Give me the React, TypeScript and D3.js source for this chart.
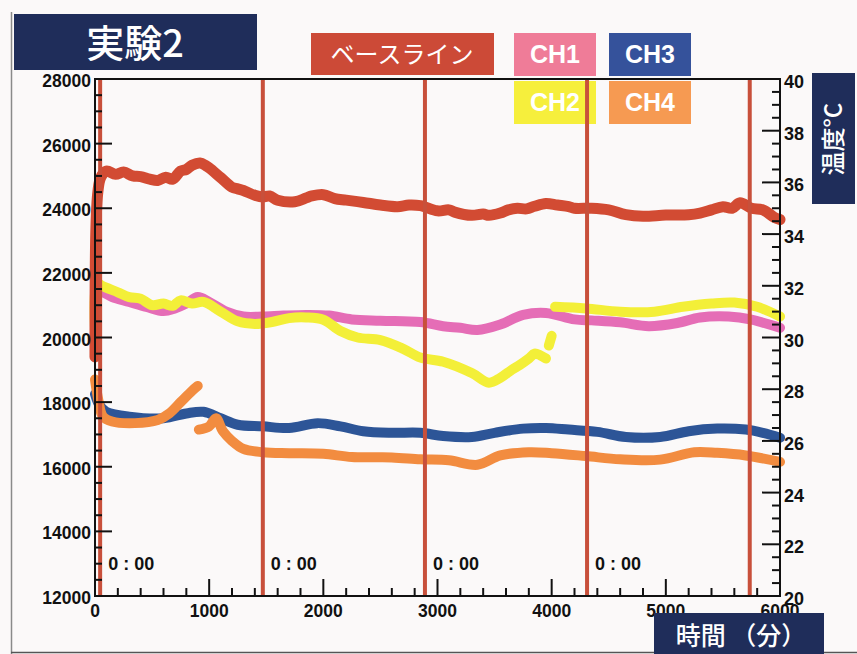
import React from 'react';
import * as d3 from 'd3';

const W = 857;
const H = 654;

// ---- data ----
const xMajorTicks = [0, 1000, 2000, 3000, 4000, 5000, 6000];
const yLeftMajorTicks = [12000, 14000, 16000, 18000, 20000, 22000, 24000, 26000, 28000];
const yRightMajorTicks = [20, 22, 24, 26, 28, 30, 32, 34, 36, 38, 40];
const dayLines = [45, 1470, 2890, 4310, 5735];
const labelledDayLines = [45, 1470, 2890, 4310];
const dayLabel = '0 : 00';

const baseline: [number, number][] = [
  [0, 19400], [8, 23400], [25, 24500], [50, 24950], [100, 25150], [180, 25050], [250, 25120], [330, 25000],
  [400, 24980], [480, 24900], [550, 24860], [620, 24960], [680, 24900], [750, 25150], [800, 25200],
  [850, 25330], [920, 25400], [970, 25320], [1000, 25250], [1100, 24950], [1200, 24650], [1250, 24600],
  [1300, 24550], [1400, 24400], [1470, 24350], [1530, 24380], [1600, 24250], [1750, 24200], [1850, 24320],
  [1900, 24380], [2000, 24420], [2100, 24300], [2200, 24250], [2350, 24180], [2500, 24100], [2650, 24050],
  [2750, 24100], [2850, 24080], [3000, 23920], [3100, 23950], [3150, 23880], [3300, 23780], [3400, 23820],
  [3450, 23780], [3550, 23850], [3620, 23950], [3700, 24000], [3780, 23980], [3850, 24060], [3950, 24150],
  [4050, 24100], [4150, 24050], [4200, 24000], [4350, 24000], [4500, 23950], [4650, 23800], [4800, 23750],
  [5000, 23790], [5200, 23800], [5300, 23850], [5400, 23950], [5500, 24050], [5580, 24000], [5650, 24170],
  [5750, 24000], [5850, 23950], [5950, 23720], [6000, 23650],
];

const ch1: [number, number][] = [
  [0, 20900], [20, 21300], [60, 21400], [150, 21250], [300, 21100], [450, 20950], [600, 20820],
  [700, 20900], [800, 21050], [900, 21250], [1000, 21100], [1150, 20800], [1300, 20650], [1470, 20650],
  [1650, 20680], [1850, 20700], [2050, 20680], [2250, 20560], [2500, 20520], [2850, 20480], [3050, 20350],
  [3200, 20300], [3350, 20230], [3550, 20400], [3750, 20700], [3950, 20760], [4200, 20560], [4350, 20530],
  [4600, 20470], [4850, 20350], [5100, 20450], [5300, 20620], [5550, 20650], [5750, 20550], [6000, 20300],
];

const ch2Segments: [number, number][][] = [
  [
    [0, 20300], [15, 21700], [60, 21600], [200, 21400], [300, 21250], [400, 21200], [500, 21000],
    [600, 21050], [680, 20980], [750, 21150], [850, 21050], [950, 21100], [1100, 20800], [1250, 20500],
    [1400, 20420], [1550, 20480], [1700, 20600], [1850, 20620], [2000, 20550], [2150, 20200], [2300, 20000],
    [2500, 19920], [2700, 19650], [2850, 19380], [3050, 19250], [3300, 18900], [3450, 18600], [3550, 18750],
    [3650, 19000], [3720, 19150], [3800, 19350], [3850, 19500], [3900, 19450], [3950, 19350],
  ],
  [[3975, 19750], [4000, 20050]],
  [
    [4030, 20950], [4300, 20900], [4600, 20800], [4900, 20800], [5150, 20950], [5400, 21050],
    [5600, 21080], [5800, 20950], [6000, 20650],
  ],
];

const ch3: [number, number][] = [
  [0, 18250], [40, 17900], [100, 17700], [300, 17550], [600, 17500], [800, 17650], [950, 17700],
  [1100, 17500], [1250, 17300], [1470, 17250], [1700, 17200], [1950, 17350], [2150, 17250], [2350, 17100],
  [2600, 17050], [2850, 17050], [3050, 16950], [3300, 16920], [3500, 17050], [3750, 17180], [3950, 17200],
  [4150, 17150], [4400, 17080], [4650, 16920], [4950, 16920], [5200, 17100], [5450, 17180], [5700, 17150],
  [5850, 17050], [6000, 16900],
];

const ch4Segments: [number, number][][] = [
  [
    [0, 18700], [30, 18050], [70, 17550], [150, 17400], [350, 17350], [550, 17450], [650, 17650],
    [750, 18000], [850, 18350], [900, 18500],
  ],
  [
    [910, 17150], [1000, 17250], [1060, 17500], [1120, 17100], [1200, 16800], [1300, 16550], [1470, 16450],
    [1700, 16420], [2000, 16400], [2250, 16300], [2600, 16290], [2850, 16230], [3100, 16200], [3350, 16060],
    [3550, 16350], [3800, 16450], [4000, 16420], [4300, 16330], [4600, 16230], [4950, 16220], [5250, 16450],
    [5450, 16430], [5700, 16350], [6000, 16150],
  ],
];

// ---- layout ----
const PL = 95, PR = 780, PT = 79, PB = 596;
const x = d3.scaleLinear().domain([0, 6000]).range([PL, PR]);
const yL = d3.scaleLinear().domain([12000, 28000]).range([PB, PT]);
const yR = d3.scaleLinear().domain([20, 40]).range([PB, PT]);

const line = d3.line<[number, number]>()
  .x(d => x(d[0]))
  .y(d => yL(d[1]))
  .curve(d3.curveCatmullRom.alpha(0.5));

const NAVY = '#1f2d5a';
const numFont = "'Liberation Sans', Arial, sans-serif";
const jpFont = "'Noto Sans CJK JP', 'Noto Sans', sans-serif";

const series = [
  { segs: [ch3], color: '#2d5597', w: 10 },
  { segs: ch4Segments, color: '#f28c40', w: 10 },
  { segs: [ch1], color: '#e56db6', w: 10 },
  { segs: ch2Segments, color: '#f3ef38', w: 10 },
  { segs: [baseline], color: '#d24b33', w: 11 },
];

export default function App() {
  const xMinor = d3.range(0, 6001, 200).filter(v => v % 1000 !== 0);
  const yLMinor = d3.range(12000, 28001, 500).filter(v => v % 2000 !== 0);
  const yRMinor = d3.range(20, 40.01, 0.5).filter(v => Math.abs(v % 2) > 1e-6);

  return (
    <svg width={W} height={H} style={{ position: 'absolute', left: 0, top: 0, background: '#fbf9f9' }}>
      <rect x={0} y={0} width={W} height={H} fill="#fbf9f9" />
      {/* page frame */}
      <line x1={11.5} y1={12} x2={11.5} y2={H} stroke="#8a8a8a" strokeWidth={1.5} />
      <line x1={11} y1={652.5} x2={W} y2={652.5} stroke="#555" strokeWidth={1.5} />

      {/* title */}
      <rect x={14} y={14} width={243} height={56} fill={NAVY} />
      <text x={135} y={57} textAnchor="middle" fill="#fff" fontFamily={jpFont} fontWeight={500} fontSize={38}>実験2</text>

      {/* legend */}
      <rect x={311} y={33} width={183} height={42} fill="#cc4a37" />
      <text x={402} y={63} textAnchor="middle" fill="#fff" fontFamily={jpFont} fontSize={24}>ベースライン</text>
      <rect x={514} y={33} width={82} height={43} fill="#ef7c98" />
      <text x={555} y={63} textAnchor="middle" fill="#fff" fontFamily={numFont} fontWeight="bold" fontSize={25}>CH1</text>
      <rect x={609} y={33} width={82} height={43} fill="#35529b" />
      <text x={650} y={63} textAnchor="middle" fill="#fff" fontFamily={numFont} fontWeight="bold" fontSize={25}>CH3</text>
      <rect x={514} y={81} width={82} height={43} fill="#f6ef3c" />
      <text x={555} y={111} textAnchor="middle" fill="#fff" fontFamily={numFont} fontWeight="bold" fontSize={25}>CH2</text>
      <rect x={609} y={81} width={82} height={43} fill="#f69a52" />
      <text x={650} y={111} textAnchor="middle" fill="#fff" fontFamily={numFont} fontWeight="bold" fontSize={25}>CH4</text>

      {/* right label box */}
      <rect x={812} y={73} width={43} height={131} fill={NAVY} />
      <text transform="translate(842,139) rotate(-90)" textAnchor="middle" fill="#fff" fontFamily={jpFont} fontWeight={500} fontSize={24}>温度°C</text>

      {/* series */}
      {series.map((s, i) => (
        <g key={i}>
          {s.segs.map((seg, j) => (
            <path key={j} d={line(seg) || ''} fill="none" stroke={s.color} strokeWidth={s.w}
              strokeLinecap="round" strokeLinejoin="round" />
          ))}
        </g>
      ))}

      {/* day lines */}
      {dayLines.map((d, i) => (
        <line key={i} x1={x(d)} x2={x(d)} y1={PT} y2={PB} stroke="#c8503b" strokeWidth={4} />
      ))}
      {labelledDayLines.map((d, i) => (
        <text key={i} x={x(d) + 8} y={570} fontFamily={numFont} fontWeight="bold" fontSize={18} fill="#111">{dayLabel}</text>
      ))}

      {/* frame */}
      <rect x={PL} y={PT} width={PR - PL} height={PB - PT} fill="none" stroke="#111" strokeWidth={2} />

      {/* left axis ticks */}
      {yLeftMajorTicks.map(v => (
        <g key={v}>
          <line x1={PL} x2={PL + 17} y1={yL(v)} y2={yL(v)} stroke="#111" strokeWidth={2} />
          <text x={91} y={yL(v) + 8} textAnchor="end" fontFamily={numFont} fontWeight="bold" fontSize={17.5} fill="#111">{v}</text>
        </g>
      ))}
      {yLMinor.map(v => (
        <line key={v} x1={PL} x2={PL + 7} y1={yL(v)} y2={yL(v)} stroke="#111" strokeWidth={2} />
      ))}

      {/* bottom axis ticks */}
      {xMajorTicks.map(v => (
        <g key={v}>
          <line x1={x(v)} x2={x(v)} y1={PB} y2={PB - 17} stroke="#111" strokeWidth={2} />
          <text x={x(v)} y={617} textAnchor="middle" fontFamily={numFont} fontWeight="bold" fontSize={17.5} fill="#111">{v}</text>
        </g>
      ))}
      {xMinor.map(v => (
        <line key={v} x1={x(v)} x2={x(v)} y1={PB} y2={PB - 8} stroke="#111" strokeWidth={2} />
      ))}

      {/* right axis ticks */}
      {yRightMajorTicks.map(v => (
        <g key={v}>
          <line x1={PR} x2={PR - 18} y1={yR(v)} y2={yR(v)} stroke="#111" strokeWidth={2} />
          <text x={784} y={yR(v) + 9} textAnchor="start" fontFamily={numFont} fontWeight="bold" fontSize={18} fill="#111">{v}</text>
        </g>
      ))}
      {yRMinor.map(v => (
        <line key={v} x1={PR} x2={PR - 8} y1={yR(v)} y2={yR(v)} stroke="#111" strokeWidth={2} />
      ))}

      {/* x label box */}
      <rect x={654} y={613} width={170} height={41} fill={NAVY} />
      <text x={741} y={645} textAnchor="middle" fill="#fff" fontFamily={jpFont} fontWeight={500} fontSize={25}>時間 （分）</text>
    </svg>
  );
}
